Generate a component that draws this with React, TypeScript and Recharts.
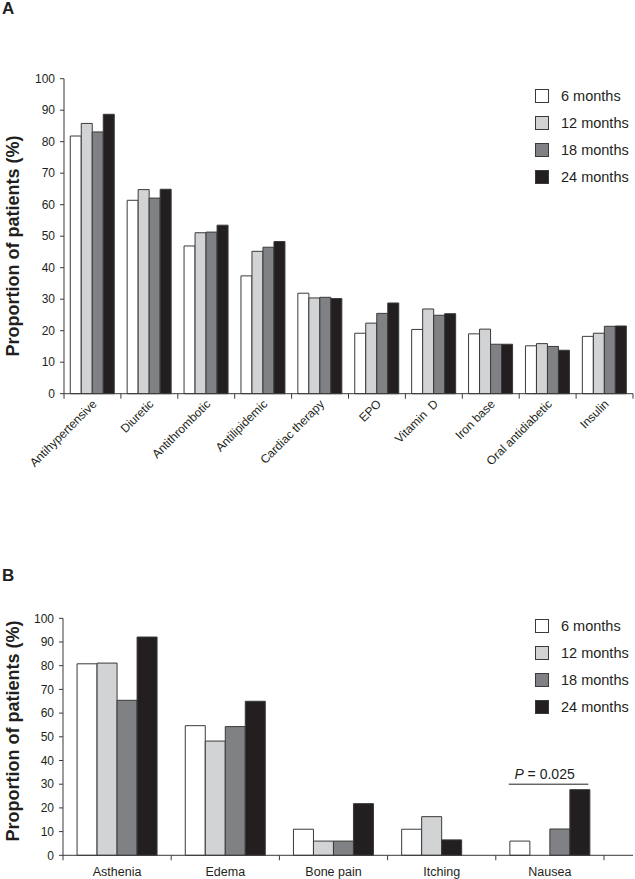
import React from 'react';
import { BarChart, Bar, XAxis, YAxis, Cell, ReferenceArea } from 'recharts';

// ---------- shared series ----------
const seriesNames = ['6 months', '12 months', '18 months', '24 months'];
const seriesKeys = ['m6', 'm12', 'm18', 'm24'];
const seriesColors = ['#ffffff', '#d2d3d5', '#808184', '#231f20'];

// ---------- panel A: medications ----------
const medCategories = [
  'Antihypertensive', 'Diuretic', 'Antithrombotic', 'Antilipidemic', 'Cardiac therapy',
  'EPO', 'Vitamin  D', 'Iron base', 'Oral antidiabetic', 'Insulin',
];
const med6 = [81.8, 61.4, 46.9, 37.4, 31.9, 19.2, 20.4, 19.0, 15.2, 18.2];
const med12 = [85.8, 64.8, 51.1, 45.2, 30.4, 22.4, 26.9, 20.5, 15.9, 19.2];
const med18 = [83.1, 62.1, 51.3, 46.5, 30.6, 25.5, 24.9, 15.7, 15.0, 21.4];
const med24 = [88.7, 64.9, 53.5, 48.3, 30.2, 28.8, 25.4, 15.7, 13.8, 21.5];

// ---------- panel B: symptoms ----------
const symptomCategories = ['Asthenia', 'Edema', 'Bone pain', 'Itching', 'Nausea'];
const sym6 = [80.8, 54.7, 11.0, 11.0, 6.0];
const sym12 = [81.1, 48.2, 6.0, 16.3, 0];
// the original figure draws the third Itching bar (18-month slot) in black
const sym18 = [65.4, 54.3, 6.0, 6.5, 11.1];
const sym24 = [92.1, 65.0, 21.8, 0, 27.7];
const itchingIndex = 3;

const yTicks = [0, 10, 20, 30, 40, 50, 60, 70, 80, 90, 100];
const pAnnotation = { category: 'Nausea', y: 30, text: ' = 0.025' };

const medData = medCategories.map((name, i) => ({
  name, m6: med6[i], m12: med12[i], m18: med18[i], m24: med24[i],
}));
const symData = symptomCategories.map((name, i) => ({
  name, m6: sym6[i], m12: sym12[i], m18: sym18[i], m24: sym24[i],
}));

const FONT = '"Liberation Sans", Arial, Helvetica, sans-serif';
const AXIS = '#3a3a3a';
const TEXT = '#231f20';
const BAR_STROKE = '#3a3a3a';

// layout constants
const A_LEFT = 64;
const A_RIGHT = 633;
const B_LEFT = 63;
const B_RIGHT = 604;
const HALF_A = (A_RIGHT - A_LEFT) / medCategories.length / 2;
const HALF_B = (B_RIGHT - B_LEFT) / symptomCategories.length / 2;

const MedTick = (props: any) => {
  const { x, y, payload, index } = props;
  const last = index === medCategories.length - 1;
  const ax = x + 5;
  const ay = y + 11;
  return (
    <g>
      <line x1={x - HALF_A} x2={x - HALF_A} y1={y} y2={y + 5} stroke={AXIS} strokeWidth={1} />
      {last && <line x1={x + HALF_A} x2={x + HALF_A} y1={y} y2={y + 5} stroke={AXIS} strokeWidth={1} />}
      <text
        x={ax}
        y={ay}
        transform={`rotate(-45, ${ax}, ${ay})`}
        textAnchor="end"
        fontSize={12}
        fontFamily={FONT}
        fill={TEXT}
        style={{ whiteSpace: 'pre' }}
      >
        {payload.value}
      </text>
    </g>
  );
};

const SymTick = (props: any) => {
  const { x, y, payload, index } = props;
  const last = index === symptomCategories.length - 1;
  return (
    <g>
      <line x1={x - HALF_B} x2={x - HALF_B} y1={y} y2={y + 5} stroke={AXIS} strokeWidth={1} />
      {last && <line x1={x + HALF_B} x2={x + HALF_B} y1={y} y2={y + 5} stroke={AXIS} strokeWidth={1} />}
      {last && <line x1={x + HALF_B} x2={x + HALF_B + 29} y1={y} y2={y} stroke={AXIS} strokeWidth={1} />}
      <text x={x} y={y + 21} textAnchor="middle" fontSize={12.5} fontFamily={FONT} fill={TEXT}>
        {payload.value}
      </text>
    </g>
  );
};

const PShape = (p: any) => {
  const { x, y, width, height } = p;
  if (x == null || width == null) return null;
  const ly = y + (height || 0);
  const x1 = x + width * 0.12;
  const x2 = x + width * 0.855;
  return (
    <g>
      <line x1={x1} x2={x2} y1={ly} y2={ly} stroke={TEXT} strokeWidth={1} />
      <text x={(x1 + x2) / 2 - 4} y={ly - 5} textAnchor="middle" fontSize={14} fontFamily={FONT} fill={TEXT}>
        <tspan fontStyle="italic">P</tspan>
        {pAnnotation.text}
      </text>
    </g>
  );
};

const LegendBlock = ({ top }: { top: number }) => (
  <div style={{ position: 'absolute', left: 535, top, fontFamily: FONT, fontSize: 14.5, color: TEXT }}>
    {seriesNames.map((n, i) => (
      <div key={n} style={{ display: 'flex', alignItems: 'center', height: 27 }}>
        <span
          style={{
            display: 'inline-block',
            width: 12,
            height: 12,
            background: seriesColors[i],
            border: `1px solid ${BAR_STROKE}`,
            marginRight: 12,
          }}
        />
        <span style={{ whiteSpace: 'nowrap', lineHeight: '16px' }}>{n}</span>
      </div>
    ))}
  </div>
);

const YLabel = ({ cx, cy }: { cx: number; cy: number }) => (
  <div
    style={{
      position: 'absolute',
      left: cx,
      top: cy,
      transform: 'translate(-50%, -50%) rotate(-90deg)',
      fontFamily: FONT,
      fontWeight: 'bold',
      fontSize: 18,
      lineHeight: '20px',
      whiteSpace: 'nowrap',
      color: TEXT,
    }}
  >
    Proportion of patients (%)
  </div>
);

const PanelLetter = ({ letter, top }: { letter: string; top: number }) => (
  <div
    style={{
      position: 'absolute',
      left: 2,
      top,
      fontFamily: FONT,
      fontWeight: 'bold',
      fontSize: 17,
      lineHeight: '17px',
      color: TEXT,
    }}
  >
    {letter}
  </div>
);

const yAxisCommon = {
  type: 'number' as const,
  domain: [0, 100] as [number, number],
  ticks: yTicks,
  interval: 0 as const,
  tickSize: 4,
  tickMargin: 5,
  axisLine: { stroke: AXIS, strokeWidth: 1 },
  tickLine: { stroke: AXIS, strokeWidth: 1 },
  tick: { fontSize: 12, fontFamily: FONT, fill: TEXT },
};

export default function App() {
  return (
    <div style={{ position: 'absolute', left: 0, top: 0, width: 635, height: 879, background: '#fff', overflow: 'hidden' }}>
      {/* Panel A */}
      <div style={{ position: 'absolute', left: 0, top: 0 }}>
        <BarChart
          width={635}
          height={520}
          data={medData}
          margin={{ top: 78.7, right: 635 - A_RIGHT, bottom: 6.3, left: 0 }}
          barCategoryGap="11%"
          barGap={0}
        >
          <XAxis
            dataKey="name"
            type="category"
            interval={0}
            height={120}
            tickSize={0}
            tickMargin={0}
            tickLine={false}
            axisLine={{ stroke: AXIS, strokeWidth: 1 }}
            tick={<MedTick />}
          />
          <YAxis width={A_LEFT} {...yAxisCommon} />
          {seriesKeys.map((k, i) => (
            <Bar
              key={k}
              dataKey={k}
              name={seriesNames[i]}
              fill={seriesColors[i]}
              stroke={BAR_STROKE}
              strokeWidth={1}
              isAnimationActive={false}
            />
          ))}
        </BarChart>
      </div>

      {/* Panel B */}
      <div style={{ position: 'absolute', left: 0, top: 540 }}>
        <BarChart
          width={635}
          height={339}
          data={symData}
          margin={{ top: 78.3, right: 635 - B_RIGHT, bottom: 0, left: 0 }}
          barCategoryGap="13%"
          barGap={0}
        >
          <XAxis
            dataKey="name"
            type="category"
            interval={0}
            height={23.7}
            tickSize={0}
            tickMargin={0}
            tickLine={false}
            axisLine={{ stroke: AXIS, strokeWidth: 1 }}
            tick={<SymTick />}
          />
          <YAxis width={B_LEFT} {...yAxisCommon} />
          {seriesKeys.map((k, i) => (
            <Bar
              key={k}
              dataKey={k}
              name={seriesNames[i]}
              fill={seriesColors[i]}
              stroke={BAR_STROKE}
              strokeWidth={1}
              isAnimationActive={false}
            >
              {k === 'm18'
                ? symData.map((d, j) => (
                    <Cell key={d.name} fill={j === itchingIndex ? seriesColors[3] : seriesColors[2]} />
                  ))
                : null}
            </Bar>
          ))}
          <ReferenceArea
            x1={pAnnotation.category}
            x2={pAnnotation.category}
            y1={pAnnotation.y}
            y2={pAnnotation.y}
            ifOverflow="visible"
            shape={<PShape />}
          />
        </BarChart>
      </div>

      <PanelLetter letter="A" top={0} />
      <PanelLetter letter="B" top={567} />
      <YLabel cx={13} cy={246} />
      <YLabel cx={13} cy={731} />
      <LegendBlock top={82} />
      <LegendBlock top={612} />
    </div>
  );
}
